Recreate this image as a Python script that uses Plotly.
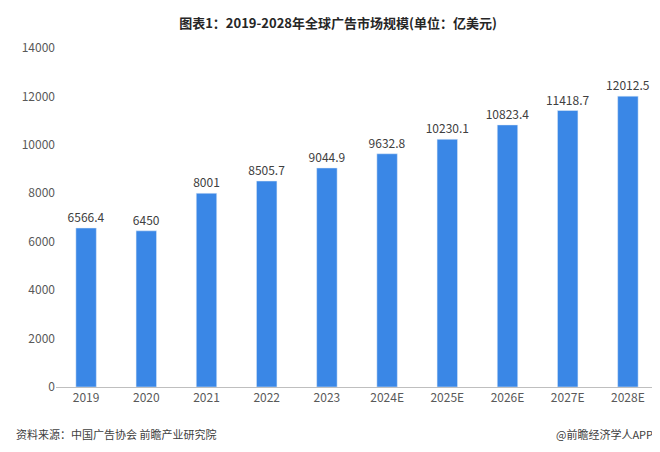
import plotly.graph_objects as go

years = ["2019", "2020", "2021", "2022", "2023", "2024E", "2025E", "2026E", "2027E", "2028E"]
market_size = [6566.4, 6450, 8001, 8505.7, 9044.9, 9632.8, 10230.1, 10823.4, 11418.7, 12012.5]
labels = ["6566.4", "6450", "8001", "8505.7", "9044.9", "9632.8", "10230.1", "10823.4", "11418.7", "12012.5"]

font = "Noto Sans CJK SC"

fig = go.Figure(go.Bar(
    x=years, y=market_size, text=labels, textposition="outside",
    textfont=dict(size=12, color="#404040", family=font),
    marker_color="#3a87e6", width=0.34, cliponaxis=False,
))

fig.update_layout(
    width=660, height=452,
    plot_bgcolor="white", paper_bgcolor="white",
    margin=dict(l=48, r=10, t=40, b=73),
    showlegend=False,
    uniformtext=dict(minsize=12, mode="show"),
    font=dict(family=font, color="#595959", size=12),
    title=dict(text="<b>图表1：2019-2028年全球广告市场规模(单位：亿美元)</b>",
               x=0.5, xanchor="center", y=0.975, yanchor="top",
               font=dict(size=13, color="#262626", family=font)),
    xaxis=dict(showline=True, linecolor="#bfbfbf", ticks="", showgrid=False,
               tickfont=dict(size=12, color="#595959")),
    yaxis=dict(range=[0, 14000], dtick=2000, tickformat="d", showgrid=False, zeroline=False,
               showline=False, tickfont=dict(size=12, color="#595959")),
    annotations=[
        dict(text="资料来源：中国广告协会 前瞻产业研究院", xref="paper", yref="paper",
             x=-0.07, y=-0.14, xanchor="left", yanchor="middle", showarrow=False,
             font=dict(size=11, color="#404040", family=font)),
        dict(text="@前瞻经济学人APP", xref="paper", yref="paper",
             x=0.995, y=-0.14, xanchor="right", yanchor="middle", showarrow=False,
             font=dict(size=11, color="#404040", family=font)),
    ],
)

fig.write_html("out.html")
